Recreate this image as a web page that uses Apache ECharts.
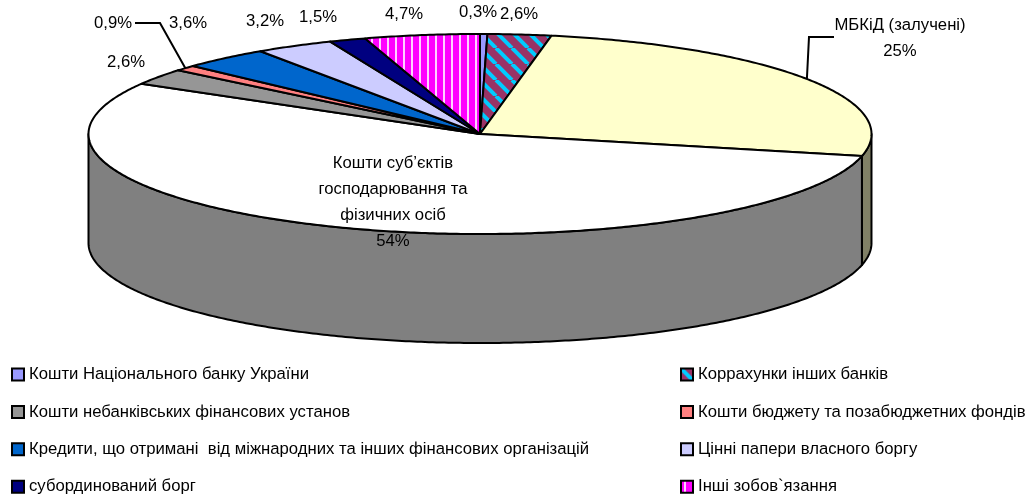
<!DOCTYPE html>
<html>
<head>
<meta charset="utf-8">
<style>
  html, body { margin: 0; padding: 0; background: #fff; }
  #chart { width: 1031px; height: 495px; }
</style>
<script src="https://cdn.jsdelivr.net/npm/echarts@6/dist/echarts.min.js"></script>
</head>
<body>
<div id="chart"></div>
<script>
var sliceNames = [
  'Кошти Національного банку України',
  'Коррахунки інших банків',
  'МБКіД (залучені)',
  'Кошти суб’єктів господарювання та фізичних осіб',
  'Кошти небанківських фінансових установ',
  'Кошти бюджету та позабюджетних фондів',
  'Кредити, що отримані  від міжнародних та інших фінансових організацій',
  'Цінні папери власного боргу',
  'субординований борг',
  'Інші зобов`язання'
]
var sliceValues = [0.3, 2.6, 25.4, 54.4, 2.6, 0.9, 3.6, 3.2, 1.5, 4.7]
var sliceLabels = ['0,3%', '2,6%', 'МБКіД (залучені)\n25%', 'Кошти суб’єктів\nгосподарювання та\nфізичних осіб\n54%', '2,6%', '0,9%', '3,6%', '3,2%', '1,5%', '4,7%']
var legendLeft = [sliceNames[0], sliceNames[4], sliceNames[6], sliceNames[8]]
var legendRight = [sliceNames[1], sliceNames[5], sliceNames[7], sliceNames[9]]

// layout of the tilted pie
var CX = 480, CY = 134, RX = 391.5, RY = 100, DEPTH = 109
var FONT = '16.7px "Liberation Sans", Arial, sans-serif'
var labelPos = [[478, 12], [519, 14], [900, 38], [393, 202], [126, 62], [113, 23], [188, 23], [265, 21], [318, 17], [404, 14]]
var leaderPts = { 2: [[834, 37], [809, 37]], 5: [[135, 23], [160, 23]] }

function stripesTile() {
  var c = document.createElement('canvas')
  c.width = 16
  c.height = 16
  var g = c.getContext('2d')
  g.fillStyle = '#993366'
  g.fillRect(0, 0, 16, 16)
  g.strokeStyle = '#00CCFF'
  g.lineWidth = 4
  for (var i = -16; i <= 32; i += 16) {
    g.beginPath()
    g.moveTo(i, 0)
    g.lineTo(i + 16, 16)
    g.stroke()
  }
  return { image: c, repeat: 'repeat' }
}

function barsTile() {
  var c = document.createElement('canvas')
  c.width = 8
  c.height = 4
  var g = c.getContext('2d')
  g.fillStyle = '#FF00FF'
  g.fillRect(0, 0, 8, 4)
  g.fillStyle = '#FFD0FF'
  g.fillRect(3, 0, 2, 4)
  return { image: c, repeat: 'repeat' }
}

var sliceColors = ['#9999FF', stripesTile(), '#FFFFCC', '#FFFFFF', '#969696', '#FF8080', '#0066CC', '#CCCCFF', '#000080', barsTile()]
var wallColors = ['#4D4D80', '#4D1A33', '#808066', '#808080', '#4B4B4B', '#804040', '#003366', '#666680', '#000040', '#800080']

var total = sliceValues.reduce(function (a, b) { return a + b }, 0)

// angle counted clockwise from the top of the pie
function ellipsePoint(angle, dy) {
  return [CX + RX * Math.sin(angle), CY - RY * Math.cos(angle) + (dy || 0)]
}

function arcPoints(from, to, dy) {
  var pts = []
  var n = Math.max(2, Math.ceil((to - from) / 0.01))
  for (var i = 0; i <= n; i++) {
    pts.push(ellipsePoint(from + (to - from) * i / n, dy))
  }
  return pts
}

function sliceAngles(idx) {
  var before = 0
  for (var i = 0; i < idx; i++) before += sliceValues[i]
  return [before / total * Math.PI * 2, (before + sliceValues[idx]) / total * Math.PI * 2]
}

function renderSlice(idx) {
  return function (params, api) {
    var a = sliceAngles(idx)
    var children = []
    var lineStyle = { stroke: '#000', lineWidth: 2, lineJoin: 'round' }
    var wallFrom = Math.max(a[0], Math.PI / 2)
    var wallTo = Math.min(a[1], Math.PI * 1.5)
    if (wallTo > wallFrom) {
      var wall = arcPoints(wallFrom, wallTo, 0).concat(arcPoints(wallFrom, wallTo, DEPTH).reverse())
      children.push({
        type: 'polygon',
        shape: { points: wall },
        style: Object.assign({ fill: wallColors[idx] }, lineStyle)
      })
    }
    var face = [[CX, CY]].concat(arcPoints(a[0], a[1], 0))
    children.push({
      type: 'polygon',
      shape: { points: face },
      style: Object.assign({ fill: sliceColors[idx] }, lineStyle)
    })
    if (leaderPts[idx]) {
      var mid = (a[0] + a[1]) / 2
      children.push({
        type: 'polyline',
        shape: { points: leaderPts[idx].concat([ellipsePoint(mid, 0)]) },
        style: { stroke: '#000', lineWidth: 2, fill: null }
      })
    }
    children.push({
      type: 'text',
      z2: 10,
      style: {
        x: labelPos[idx][0],
        y: labelPos[idx][1],
        text: sliceLabels[idx],
        font: FONT,
        fill: '#000',
        align: 'center',
        verticalAlign: 'middle',
        lineHeight: 26
      }
    })
    return { type: 'group', children: children }
  }
}

function makeLegend(names, left) {
  return {
    data: names,
    orient: 'vertical',
    left: left,
    top: 366,
    height: 300,
    padding: 0,
    itemGap: 20.4,
    itemWidth: 12,
    itemHeight: 12,
    icon: 'rect',
    selectedMode: false,
    textStyle: { color: '#000', fontSize: 16.7, fontFamily: '"Liberation Sans", Arial, sans-serif', padding: [0, 0, 0, 0] },
    itemStyle: { borderColor: '#000', borderWidth: 2 }
  }
}

var chart = echarts.init(document.getElementById('chart'), null, { renderer: 'canvas' })
chart.setOption({
  animation: false,
  backgroundColor: '#fff',
  legend: [makeLegend(legendLeft, 11), makeLegend(legendRight, 680)],
  series: sliceNames.map(function (name, i) {
    return {
      type: 'custom',
      name: name,
      coordinateSystem: 'none',
      silent: true,
      itemStyle: { color: sliceColors[i] },
      data: [sliceValues[i]],
      renderItem: renderSlice(i)
    }
  })
})
</script>
</body>
</html>
